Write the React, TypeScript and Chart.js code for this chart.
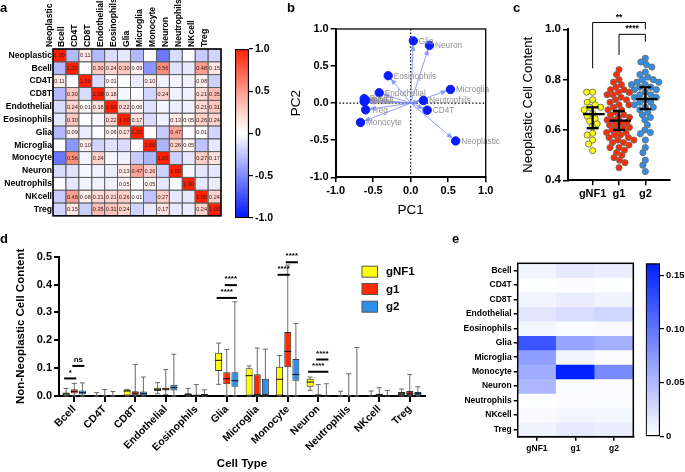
import React, { useEffect, useRef } from 'react';
import { Chart, registerables } from 'chart.js';

Chart.register(...registerables);

const FONT = "'Liberation Sans', Arial, Helvetica, sans-serif";
Chart.defaults.font.family = FONT;
Chart.defaults.color = '#000';

// ---------------- Panel a : correlation matrix ----------------
const corrLabels = ['Neoplastic', 'Bcell', 'CD4T', 'CD8T', 'Endothelial', 'Eosinophils', 'Glia', 'Microglia', 'Monocyte', 'Neuron', 'Neutrophils', 'NKcell', 'Treg'];
const corrNeoplastic = [1, -0.30, 0.11, -0.30, -0.15, -0.10, -0.30, -0.02, -0.58, -0.15, -0.02, -0.22, -0.18];
const corrBcell = [-0.30, 1, -0.02, 0.30, 0.24, 0.30, 0.09, -0.45, 0.56, -0.12, -0.10, 0.48, 0.15];
const corrCD4T = [0.11, -0.02, 1, -0.15, 0.01, -0.01, -0.08, 0.10, -0.05, -0.04, -0.05, 0.08, -0.20];
const corrCD8T = [-0.30, 0.30, -0.15, 1, 0.18, -0.04, -0.02, -0.18, 0.24, -0.06, -0.06, 0.21, 0.35];
const corrEndothelial = [-0.15, 0.24, 0.01, 0.18, 1, 0.22, 0.06, -0.12, -0.04, -0.08, -0.06, 0.21, 0.31];
const corrEosinophils = [-0.10, 0.30, -0.01, -0.04, 0.22, 1, 0.17, -0.15, -0.06, 0.13, 0.05, 0.26, 0.24];
const corrGlia = [-0.30, 0.09, -0.08, -0.02, 0.06, 0.17, 1, -0.02, -0.22, 0.47, -0.02, 0.01, -0.18];
const corrMicroglia = [-0.02, -0.45, 0.10, -0.18, -0.12, -0.15, -0.02, 1, -0.32, 0.26, 0.05, -0.25, -0.10];
const corrMonocyte = [-0.58, 0.56, -0.05, 0.24, -0.04, -0.06, -0.22, -0.32, 1, -0.20, -0.10, 0.27, 0.17];
const corrNeuron = [-0.15, -0.12, -0.04, -0.06, -0.08, 0.13, 0.47, 0.26, -0.20, 1, -0.03, -0.10, -0.10];
const corrNeutrophils = [-0.02, -0.10, -0.05, -0.06, -0.06, 0.05, -0.02, 0.05, -0.10, -0.03, 1, -0.10, -0.08];
const corrNKcell = [-0.22, 0.48, 0.08, 0.21, 0.21, 0.26, 0.01, -0.25, 0.27, -0.10, -0.10, 1, 0.24];
const corrTreg = [-0.18, 0.15, -0.20, 0.35, 0.31, 0.24, -0.18, -0.10, 0.17, -0.10, -0.08, 0.24, 1];
const corrRows = [corrNeoplastic, corrBcell, corrCD4T, corrCD8T, corrEndothelial, corrEosinophils, corrGlia, corrMicroglia, corrMonocyte, corrNeuron, corrNeutrophils, corrNKcell, corrTreg];
const corrBarTicks = [1, 0.5, 0, -0.5, -1];

// ---------------- Panel b : PCA loadings ----------------
const pcaNames = ['Glia', 'Neuron', 'Eosinophils', 'Microglia', 'Endothelial', 'Neutrophils', 'CD4T', 'Bcell', 'NKcell', 'CD8T', 'Treg', 'Monocyte', 'Neoplastic'];
const pcaX = [0.035, 0.25, -0.30, 0.53, -0.42, 0.17, 0.22, -0.62, -0.62, -0.60, -0.60, -0.67, 0.60];
const pcaY = [0.84, 0.78, 0.37, 0.185, 0.14, 0.036, -0.095, 0.06, 0.02, 0.04, -0.09, -0.26, -0.51];
const pcaTicks = [-1, -0.5, 0, 0.5, 1];

// ---------------- Panel c : neoplastic content ----------------
const groupNames = ['gNF1', 'g1', 'g2'];
const groupColors = ['#ffff00', '#ff2a00', '#2f8fe6'];
const gNF1Values = [0.75, 0.75, 0.72, 0.71, 0.70, 0.69, 0.69, 0.68, 0.665, 0.655, 0.645, 0.635, 0.624, 0.613, 0.587, 0.58, 0.56, 0.544, 0.518];
const g1Values = [0.84, 0.82, 0.80, 0.79, 0.78, 0.77, 0.76, 0.76, 0.75, 0.75, 0.74, 0.74, 0.73, 0.72, 0.72, 0.71, 0.70, 0.70, 0.69, 0.68, 0.68, 0.67, 0.66, 0.66, 0.65, 0.65, 0.64, 0.64, 0.63, 0.63, 0.62, 0.62, 0.61, 0.61, 0.60, 0.60, 0.59, 0.59, 0.58, 0.58, 0.57, 0.57, 0.56, 0.56, 0.55, 0.55, 0.54, 0.53, 0.53, 0.52, 0.51, 0.50, 0.49, 0.48, 0.47, 0.45];
const g2Values = [0.885, 0.87, 0.86, 0.85, 0.83, 0.82, 0.81, 0.80, 0.80, 0.79, 0.79, 0.78, 0.78, 0.77, 0.77, 0.76, 0.76, 0.75, 0.75, 0.74, 0.74, 0.73, 0.73, 0.72, 0.71, 0.71, 0.70, 0.69, 0.69, 0.68, 0.67, 0.66, 0.65, 0.64, 0.62, 0.60, 0.59, 0.585, 0.56, 0.53, 0.51, 0.48, 0.46, 0.435];
const cMid = [0.663, 0.637, 0.723];
const cLow = [0.607, 0.600, 0.683];
const cHigh = [0.690, 0.675, 0.770];
const cTicks = [0.4, 0.6, 0.8, 1.0];
const bracketFrom = [0, 1];
const bracketTo = [2, 2];
const bracketY = [1.027, 0.98];
const bracketLeftEnd = [0.845, 0.898];
const bracketRightEnd = [1.0, 0.951];
const bracketText = ['**', '****'];

// ---------------- Panel d : non-neoplastic content (box plots) ----------------
const cellTypesD = ['Bcell', 'CD4T', 'CD8T', 'Endothelial', 'Eosinophils', 'Glia', 'Microglia', 'Monocyte', 'Neuron', 'Neutrophils', 'NKcell', 'Treg'];
// [min, q1, median, q3, max]
const boxGNF1 = [
  [0, 0.003, 0.008, 0.013, 0.027], [0, 0, 0, 0, 0.012], [0, 0.002, 0.018, 0.022, 0.024], [0.008, 0.018, 0.024, 0.030, 0.048],
  [0, 0.001, 0.005, 0.010, 0.027], [0.042, 0.090, 0.128, 0.155, 0.190], [0, 0.002, 0.073, 0.100, 0.108], [0, 0.002, 0.060, 0.105, 0.145],
  [0.020, 0.033, 0.050, 0.062, 0.068], [0, 0, 0, 0, 0.017], [0, 0, 0, 0.001, 0.018], [0, 0.004, 0.010, 0.014, 0.025],
];
const boxG1 = [
  [0, 0.009, 0.016, 0.024, 0.045], [0, 0, 0, 0, 0.023], [0, 0.003, 0.010, 0.017, 0.113], [0.005, 0.020, 0.025, 0.030, 0.095],
  [0, 0, 0.002, 0.005, 0.041], [0, 0.042, 0.062, 0.085, 0.167], [0, 0.002, 0.005, 0.078, 0.172], [0, 0.103, 0.160, 0.230, 0.470],
  [0, 0, 0.002, 0.006, 0.041], [0, 0, 0, 0, 0.080], [0, 0.001, 0.004, 0.008, 0.030], [0, 0.004, 0.010, 0.018, 0.077],
];
const boxG2 = [
  [0, 0.005, 0.012, 0.020, 0.047], [0, 0, 0, 0, 0.016], [0, 0.002, 0.008, 0.016, 0.068], [0, 0.020, 0.030, 0.040, 0.150],
  [0, 0.001, 0.004, 0.007, 0.022], [0, 0.033, 0.055, 0.085, 0.338], [0, 0, 0.002, 0.062, 0.168], [0, 0.055, 0.077, 0.133, 0.260],
  [0, 0, 0.001, 0.002, 0.044], [0, 0, 0, 0, 0.174], [0, 0, 0.001, 0.003, 0.020], [0, 0.003, 0.008, 0.014, 0.033],
];
const boxSets = [boxGNF1, boxG1, boxG2];
const dTicks = [0, 0.1, 0.2, 0.3, 0.4, 0.5];
const sigCategory = [0, 0, 5, 5, 7, 7, 8, 8];
const sigFrom = [0, 1, 0, 1, 0, 1, 0, 1];
const sigTo = [1, 2, 2, 2, 1, 2, 2, 2];
const sigY = [0.063, 0.108, 0.352, 0.398, 0.435, 0.48, 0.087, 0.131];
const sigText = ['*', 'ns', '****', '****', '****', '****', '****', '****'];

// ---------------- Panel e : mean composition heatmap ----------------
const heatRows = ['Bcell', 'CD4T', 'CD8T', 'Endothelial', 'Eosinophils', 'Glia', 'Microglia', 'Monocyte', 'Neuron', 'Neutrophils', 'NKcell', 'Treg'];
const heatGNF1 = [0.008, 0.001, 0.008, 0.018, 0.006, 0.125, 0.070, 0.060, 0.052, 0.001, 0.004, 0.009];
const heatG1 = [0.015, 0.002, 0.012, 0.024, 0.003, 0.065, 0.008, 0.160, 0.003, 0.002, 0.007, 0.015];
const heatG2 = [0.012, 0.001, 0.009, 0.030, 0.004, 0.058, 0.002, 0.085, 0.002, 0.003, 0.006, 0.012];
const heatMax = 0.161;
const heatBarTicks = [0, 0.05, 0.1, 0.15];

// ---------------- helpers ----------------
function corrColor(v: number): string {
  if (v >= 0) {
    const t = Math.pow(Math.min(v, 1), 1.15);
    return `rgb(255,${Math.round(255 - t * 223)},${Math.round(255 - t * 255)})`;
  }
  const t = Math.min(-v, 1);
  return `rgb(${Math.round(255 - t * 255)},${Math.round(255 - t * 235)},255)`;
}
function heatColor(v: number): string {
  const t = Math.max(0, Math.min(1, v / heatMax));
  return `rgb(${Math.round(255 - t * 255)},${Math.round(255 - t * 222)},255)`;
}
function line(ctx: any, x1: number, y1: number, x2: number, y2: number) {
  ctx.beginPath();
  ctx.moveTo(x1, y1);
  ctx.lineTo(x2, y2);
  ctx.stroke();
}
function beeswarm(values: number[], pxX: number, pxY: number, diam: number): number[] {
  const order = values.map((_, i) => i).sort((a, b) => values[b] - values[a]);
  const placed: { x: number; y: number }[] = [];
  const offs = new Array(values.length).fill(0);
  for (const i of order) {
    const y = values[i] * pxY;
    let best = 0;
    for (let k = 0; k < 400; k++) {
      const cand = (k % 2 === 0 ? 1 : -1) * Math.ceil(k / 2) * 0.5;
      if (placed.every((p) => (p.x - cand) ** 2 + (p.y - y) ** 2 >= diam * diam)) {
        best = cand;
        break;
      }
    }
    placed.push({ x: best, y });
    offs[i] = best / pxX;
  }
  return offs;
}
const framePlugin = (w: number) => ({
  id: 'frame',
  afterDraw(chart: any) {
    const { ctx, chartArea: a } = chart;
    ctx.save();
    ctx.strokeStyle = '#000';
    ctx.lineWidth = w;
    ctx.strokeRect(a.left, a.top, a.right - a.left, a.bottom - a.top);
    ctx.restore();
  },
});
const baseOpts = {
  animation: false,
  responsive: false,
  maintainAspectRatio: false,
};
const noPlug = { legend: { display: false }, tooltip: { enabled: false } };
const bold = (size: number) => ({ size, weight: 'bold' as const });

// ---------------- Panel a config ----------------
const cellPlugin = {
  id: 'cells',
  afterDatasetsDraw(chart: any) {
    const { ctx } = chart;
    ctx.save();
    ctx.strokeStyle = '#5c5c5c';
    ctx.lineWidth = 0.8;
    ctx.font = `5.6px ${FONT}`;
    ctx.textAlign = 'center';
    ctx.textBaseline = 'middle';
    ctx.fillStyle = '#3a1515';
    chart.data.datasets.forEach((_ds: any, i: number) => {
      const meta = chart.getDatasetMeta(i);
      meta.data.forEach((bar: any, j: number) => {
        const p = bar.getProps(['x', 'y', 'base', 'width'], true);
        const top = Math.min(p.y, p.base);
        const h = Math.abs(p.base - p.y);
        ctx.strokeRect(p.x - p.width / 2, top, p.width, h);
        const v = corrRows[i][j];
        if (v >= 0) ctx.fillText(v.toFixed(2), p.x, top + h / 2 + 0.5);
      });
    });
    ctx.restore();
  },
};
function configA(): any {
  return {
    type: 'bar',
    data: {
      labels: corrLabels,
      datasets: corrRows.map((row, i) => ({
        label: corrLabels[i],
        data: corrLabels.map(() => 1),
        backgroundColor: row.map(corrColor),
        borderWidth: 0,
        barPercentage: 1,
        categoryPercentage: 1,
      })),
    },
    options: {
      ...baseOpts,
      layout: { padding: { left: 0, top: 0, right: 14, bottom: 5 } },
      plugins: noPlug,
      scales: {
        x: {
          position: 'top',
          stacked: true,
          grid: { display: false, drawTicks: false },
          border: { display: false },
          ticks: { autoSkip: false, minRotation: 90, maxRotation: 90, padding: 2, font: bold(8.6), color: '#000' },
          afterFit: (s: any) => { s.height = 49; },
        },
        y: {
          stacked: true,
          reverse: true,
          min: 0,
          max: 13,
          grid: { display: false, drawTicks: false },
          border: { display: false },
          afterBuildTicks: (s: any) => { s.ticks = corrLabels.map((_, i) => ({ value: i + 0.5 })); },
          ticks: { autoSkip: false, padding: 1, font: bold(8.6), color: '#000', callback: (_v: any, i: number) => corrLabels[i] },
          afterFit: (s: any) => { s.width = 53; },
        },
      },
    },
    plugins: [cellPlugin, framePlugin(1.5)],
  };
}

function colorBarConfig(min: number, max: number, ticks: number[], fmt: (v: number) => string, colorAt: (v: number) => string, padding: any, axisWidth: number, fontSize: number): any {
  return {
    type: 'bar',
    data: {
      labels: [''],
      datasets: [{
        data: [[min, max]],
        backgroundColor: (c: any) => {
          const ch = c.chart;
          const a = ch.chartArea;
          if (!a) return '#fff';
          const g = ch.ctx.createLinearGradient(0, a.bottom, 0, a.top);
          for (let k = 0; k <= 24; k++) {
            const t = k / 24;
            g.addColorStop(t, colorAt(min + t * (max - min)));
          }
          return g;
        },
        borderColor: '#000',
        borderWidth: 1.5,
        borderSkipped: false,
        barPercentage: 1,
        categoryPercentage: 1,
      }],
    },
    options: {
      ...baseOpts,
      layout: { padding },
      plugins: noPlug,
      scales: {
        x: { display: false },
        y: {
          position: 'right',
          min,
          max,
          grid: { drawOnChartArea: false, tickLength: 4, color: '#000', lineWidth: 1.2 },
          border: { display: false },
          afterBuildTicks: (s: any) => { s.ticks = ticks.map((v) => ({ value: v })); },
          ticks: { padding: 2, font: bold(fontSize), color: '#000', callback: (v: any) => fmt(Number(v)) },
          afterFit: (s: any) => { s.width = axisWidth; },
        },
      },
    },
  };
}

// ---------------- Panel b config ----------------
const pcaPlugin = {
  id: 'pca',
  beforeDatasetsDraw(chart: any) {
    const { ctx, chartArea: a, scales: { x, y } } = chart;
    const x0 = x.getPixelForValue(0);
    const y0 = y.getPixelForValue(0);
    ctx.save();
    ctx.setLineDash([1.5, 2]);
    ctx.strokeStyle = '#000';
    ctx.lineWidth = 1.2;
    line(ctx, a.left, y0, a.right, y0);
    line(ctx, x0, a.top, x0, a.bottom);
    ctx.setLineDash([]);
    ctx.strokeStyle = 'rgba(125,140,255,0.85)';
    ctx.fillStyle = 'rgba(125,140,255,0.85)';
    ctx.lineWidth = 1;
    pcaNames.forEach((_n, i) => {
      const px = x.getPixelForValue(pcaX[i]);
      const py = y.getPixelForValue(pcaY[i]);
      const dx = px - x0;
      const dy = py - y0;
      const len = Math.hypot(dx, dy);
      const ux = dx / len;
      const uy = dy / len;
      const tx = px - ux * 4;
      const ty = py - uy * 4;
      line(ctx, x0, y0, tx, ty);
      const bx = tx - ux * 6;
      const by = ty - uy * 6;
      ctx.beginPath();
      ctx.moveTo(tx, ty);
      ctx.lineTo(bx - uy * 2.6, by + ux * 2.6);
      ctx.lineTo(bx + uy * 2.6, by - ux * 2.6);
      ctx.closePath();
      ctx.fill();
    });
    ctx.restore();
  },
  afterDatasetsDraw(chart: any) {
    const { ctx, scales: { x, y } } = chart;
    ctx.save();
    ctx.fillStyle = '#8f8f8f';
    ctx.font = `8.3px ${FONT}`;
    ctx.textAlign = 'left';
    ctx.textBaseline = 'middle';
    pcaNames.forEach((n, i) => {
      ctx.fillText(n, x.getPixelForValue(pcaX[i]) + 5.5, y.getPixelForValue(pcaY[i]) + 0.5);
    });
    ctx.restore();
  },
};
function configB(): any {
  return {
    type: 'scatter',
    data: {
      datasets: [{
        data: pcaX.map((v, i) => ({ x: v, y: pcaY[i] })),
        backgroundColor: '#0a1cff',
        borderColor: '#0a1cff',
        pointRadius: 4.2,
      }],
    },
    options: {
      ...baseOpts,
      layout: { padding: { left: 0, top: 29, right: 34.3, bottom: 0 } },
      plugins: noPlug,
      scales: {
        x: {
          min: -1,
          max: 1,
          afterBuildTicks: (s: any) => { s.ticks = pcaTicks.map((v) => ({ value: v })); },
          ticks: { font: bold(11), color: '#000', padding: 2, callback: (v: any) => Number(v).toFixed(1) },
          grid: { drawOnChartArea: false, tickLength: 5, color: '#000', lineWidth: 1.5 },
          border: { color: '#000', width: 2 },
          title: { display: true, text: 'PC1', font: { size: 13.5 }, color: '#000', padding: { top: 0, bottom: 2 } },
          afterFit: (s: any) => { s.height = 42.7; },
        },
        y: {
          min: -1,
          max: 1,
          afterBuildTicks: (s: any) => { s.ticks = pcaTicks.map((v) => ({ value: v })); },
          ticks: { font: bold(11), color: '#000', padding: 2, callback: (v: any) => Number(v).toFixed(1) },
          grid: { drawOnChartArea: false, tickLength: 5, color: '#000', lineWidth: 1.5 },
          border: { color: '#000', width: 2 },
          title: { display: true, text: 'PC2', font: { size: 13.5 }, color: '#000', padding: { top: 8, bottom: 0 } },
          afterFit: (s: any) => { s.width = 55.7; },
        },
      },
    },
    plugins: [pcaPlugin, framePlugin(1.3)],
  };
}

// ---------------- Panel c config ----------------
const cPlugin = {
  id: 'cErr',
  afterDatasetsDraw(chart: any) {
    const { ctx, scales: { x, y } } = chart;
    ctx.save();
    ctx.strokeStyle = '#000';
    ctx.lineWidth = 2.3;
    groupNames.forEach((_g, i) => {
      const cx = x.getPixelForValue(i);
      const yl = y.getPixelForValue(cLow[i]);
      const yh = y.getPixelForValue(cHigh[i]);
      const ym = y.getPixelForValue(cMid[i]);
      line(ctx, cx, yl, cx, yh);
      line(ctx, cx - 6, yl, cx + 6, yl);
      line(ctx, cx - 6, yh, cx + 6, yh);
      line(ctx, cx - 9.5, ym, cx + 9.5, ym);
      ctx.save();
      ctx.setLineDash([2.5, 2]);
      line(ctx, cx + 9.5, ym, cx + 14, ym);
      ctx.restore();
    });
    ctx.lineWidth = 1;
    ctx.fillStyle = '#000';
    ctx.font = `bold 8.5px ${FONT}`;
    ctx.textAlign = 'center';
    ctx.textBaseline = 'bottom';
    bracketText.forEach((t, i) => {
      const x1 = x.getPixelForValue(bracketFrom[i]);
      const x2 = x.getPixelForValue(bracketTo[i]);
      const yb = y.getPixelForValue(bracketY[i]);
      ctx.beginPath();
      ctx.moveTo(x1, y.getPixelForValue(bracketLeftEnd[i]));
      ctx.lineTo(x1, yb);
      ctx.lineTo(x2, yb);
      ctx.lineTo(x2, y.getPixelForValue(bracketRightEnd[i]));
      ctx.stroke();
      ctx.fillText(t, (x1 + x2) / 2, yb - 1);
    });
    ctx.restore();
  },
};
function configC(): any {
  const all = [gNF1Values, g1Values, g2Values];
  const offs = all.map((vals) => beeswarm(vals, 26.5, 251.7, 5.6));
  return {
    type: 'scatter',
    data: {
      datasets: all.map((vals, gi) => ({
        label: groupNames[gi],
        data: vals.map((v, k) => ({ x: gi + offs[gi][k], y: v })),
        backgroundColor: groupColors[gi],
        borderColor: '#6e6e6e',
        borderWidth: 0.9,
        pointRadius: 3.1,
      })),
    },
    options: {
      ...baseOpts,
      layout: { padding: { left: 0, top: 29.3, right: 15, bottom: 0 } },
      plugins: noPlug,
      scales: {
        x: {
          min: -0.935,
          max: 2.935,
          afterBuildTicks: (s: any) => { s.ticks = groupNames.map((_, i) => ({ value: i })); },
          ticks: { font: bold(11), color: '#000', padding: 2, callback: (_v: any, i: number) => groupNames[i] },
          grid: { drawOnChartArea: false, tickLength: 5, color: '#000', lineWidth: 1.5 },
          border: { color: '#000', width: 2 },
          afterFit: (s: any) => { s.height = 44.7; },
        },
        y: {
          min: 0.4,
          max: 1.0,
          afterBuildTicks: (s: any) => { s.ticks = cTicks.map((v) => ({ value: v })); },
          ticks: { font: bold(11.5), color: '#000', padding: 2, callback: (v: any) => Number(v).toFixed(1) },
          grid: { drawOnChartArea: false, tickLength: 5, color: '#000', lineWidth: 1.5 },
          border: { color: '#000', width: 2 },
          title: { display: true, text: 'Neoplastic Cell Content', font: { size: 13 }, color: '#000', padding: { top: 1, bottom: 0 } },
          afterFit: (s: any) => { s.width = 48; },
        },
      },
    },
    plugins: [cPlugin],
  };
}

// ---------------- Panel d config ----------------
const boxPlugin = {
  id: 'box',
  beforeDatasetsDraw(chart: any) {
    const { ctx, scales: { y } } = chart;
    ctx.save();
    ctx.strokeStyle = '#6a6a6a';
    ctx.lineWidth = 1;
    boxSets.forEach((set, di) => {
      const meta = chart.getDatasetMeta(di);
      set.forEach((b, j) => {
        const cx = meta.data[j].x;
        const yMin = y.getPixelForValue(b[0]);
        const yMax = y.getPixelForValue(b[4]);
        line(ctx, cx, yMin, cx, yMax);
        line(ctx, cx - 2.5, yMax, cx + 2.5, yMax);
        line(ctx, cx - 2.5, yMin, cx + 2.5, yMin);
      });
    });
    ctx.restore();
  },
  afterDatasetsDraw(chart: any) {
    const { ctx, scales: { y } } = chart;
    ctx.save();
    ctx.strokeStyle = '#111';
    ctx.lineWidth = 1;
    boxSets.forEach((set, di) => {
      const meta = chart.getDatasetMeta(di);
      set.forEach((b, j) => {
        if (b[3] <= b[1]) return;
        const bar = meta.data[j];
        const ym = y.getPixelForValue(b[2]);
        line(ctx, bar.x - bar.width / 2, ym, bar.x + bar.width / 2, ym);
      });
    });
    ctx.lineWidth = 2;
    ctx.strokeStyle = '#000';
    ctx.fillStyle = '#000';
    ctx.font = `bold 8px ${FONT}`;
    ctx.textAlign = 'center';
    ctx.textBaseline = 'bottom';
    sigText.forEach((t, i) => {
      const a = chart.getDatasetMeta(sigFrom[i]).data[sigCategory[i]];
      const b = chart.getDatasetMeta(sigTo[i]).data[sigCategory[i]];
      const yy = y.getPixelForValue(sigY[i]);
      const x1 = a.x - 2;
      const x2 = b.x + 2;
      line(ctx, x1, yy, x2, yy);
      ctx.fillText(t, (x1 + x2) / 2, yy - 2);
    });
    ctx.restore();
  },
  afterDraw(chart: any) {
    const { ctx } = chart;
    ctx.save();
    const ys = [36.7, 54, 71.7];
    groupNames.forEach((g, i) => {
      ctx.fillStyle = groupColors[i];
      ctx.strokeStyle = '#555';
      ctx.lineWidth = 1;
      ctx.fillRect(362, ys[i] - 5.5, 15.5, 11);
      ctx.strokeRect(362, ys[i] - 5.5, 15.5, 11);
      ctx.fillStyle = '#000';
      ctx.font = `bold 11.5px ${FONT}`;
      ctx.textAlign = 'left';
      ctx.textBaseline = 'middle';
      ctx.fillText(g, 386, ys[i] + 0.5);
    });
    ctx.restore();
  },
};
function configD(): any {
  return {
    type: 'bar',
    data: {
      labels: cellTypesD,
      datasets: boxSets.map((set, gi) => ({
        label: groupNames[gi],
        data: set.map((b) => [b[1], b[3]]),
        backgroundColor: groupColors[gi],
        borderColor: '#333',
        borderWidth: 1,
        borderSkipped: false,
        categoryPercentage: 0.8,
        barPercentage: 0.86,
      })),
    },
    options: {
      ...baseOpts,
      layout: { padding: { left: 0, top: 21.7, right: 15, bottom: 0 } },
      plugins: noPlug,
      scales: {
        x: {
          grid: { drawOnChartArea: false, offset: false, tickLength: 6, color: '#000', lineWidth: 2 },
          border: { color: '#000', width: 2 },
          ticks: { autoSkip: false, minRotation: 45, maxRotation: 45, padding: 1, font: bold(10.5), color: '#000' },
          title: { display: true, text: 'Cell Type', font: bold(11.5), color: '#000', padding: { top: 0, bottom: 1 } },
          afterFit: (s: any) => { s.height = 76; },
        },
        y: {
          min: 0,
          max: 0.5,
          afterBuildTicks: (s: any) => { s.ticks = dTicks.map((v) => ({ value: v })); },
          ticks: { font: bold(11), color: '#000', padding: 2, callback: (v: any) => Number(v).toFixed(1) },
          grid: { drawOnChartArea: false, tickLength: 5, color: '#000', lineWidth: 2 },
          border: { color: '#000', width: 2 },
          title: { display: true, text: 'Non-Neoplastic Cell Content', font: bold(11.5), color: '#000', padding: { top: 14, bottom: 0 } },
          afterFit: (s: any) => { s.width = 59; },
        },
      },
    },
    plugins: [boxPlugin],
  };
}

// ---------------- Panel e config ----------------
function configE(): any {
  const cols = [heatGNF1, heatG1, heatG2];
  return {
    type: 'bar',
    data: {
      labels: groupNames,
      datasets: heatRows.map((name, r) => ({
        label: name,
        data: groupNames.map(() => 1),
        backgroundColor: cols.map((c) => heatColor(c[r])),
        borderWidth: 0,
        barPercentage: 1,
        categoryPercentage: 1,
      })),
    },
    options: {
      ...baseOpts,
      layout: { padding: { left: 0, top: 23.3, right: 6.7, bottom: 0 } },
      plugins: noPlug,
      scales: {
        x: {
          stacked: true,
          grid: { drawOnChartArea: false, offset: false, tickLength: 4, color: '#000', lineWidth: 1.5 },
          border: { color: '#000', width: 1.5 },
          ticks: { font: bold(8.5), color: '#000', padding: 3 },
          afterFit: (s: any) => { s.height = 35.3; },
        },
        y: {
          stacked: true,
          reverse: true,
          min: 0,
          max: heatRows.length,
          grid: { drawOnChartArea: false, tickLength: 4, color: '#000', lineWidth: 1.5 },
          border: { color: '#000', width: 1.5 },
          afterBuildTicks: (s: any) => { s.ticks = heatRows.map((_, i) => ({ value: i + 0.5 })); },
          ticks: { autoSkip: false, padding: 2, font: bold(8.5), color: '#000', callback: (_v: any, i: number) => heatRows[i] },
          afterFit: (s: any) => { s.width = 77.7; },
        },
      },
    },
    plugins: [framePlugin(1.5)],
  };
}

// ---------------- components ----------------
function ChartCanvas({ left, top, width, height, make }: { left: number; top: number; width: number; height: number; make: () => any }) {
  const ref = useRef<HTMLCanvasElement | null>(null);
  useEffect(() => {
    if (!ref.current) return;
    const chart = new Chart(ref.current, make());
    return () => chart.destroy();
  }, []);
  return <canvas ref={ref} width={width} height={height} style={{ position: 'absolute', left, top, width, height }} />;
}

function Letter({ ch, left, top }: { ch: string; left: number; top: number }) {
  return (
    <div style={{ position: 'absolute', left, top, fontFamily: FONT, fontWeight: 'bold', fontSize: 13, lineHeight: '13px', color: '#000' }}>{ch}</div>
  );
}

export default function App() {
  return (
    <div style={{ position: 'absolute', left: 0, top: 0, width: 685, height: 472, background: '#fff', overflow: 'hidden' }}>
      <ChartCanvas left={0} top={0} width={235} height={222} make={configA} />
      <ChartCanvas left={228} top={40} width={60} height={188} make={() => colorBarConfig(-1, 1, corrBarTicks, (v) => (v === 0 ? '0' : v.toFixed(1)), corrColor, { left: 7, top: 9, right: 0, bottom: 10 }, 39, 10.5)} />
      <ChartCanvas left={280} top={0} width={240} height={220} make={configB} />
      <ChartCanvas left={520} top={0} width={165} height={225} make={configC} />
      <ChartCanvas left={0} top={235} width={440} height={237} make={configD} />
      <ChartCanvas left={440} top={240} width={200} height={232} make={configE} />
      <ChartCanvas left={638} top={250} width={47} height={200} make={() => colorBarConfig(0, heatMax, heatBarTicks, (v) => (v === 0 ? '0' : v.toFixed(2)), heatColor, { left: 7.7, top: 13.3, right: 0, bottom: 13.3 }, 25, 9.5)} />
      <Letter ch="a" left={0} top={1} />
      <Letter ch="b" left={287} top={1} />
      <Letter ch="c" left={513} top={1} />
      <Letter ch="d" left={0} top={232} />
      <Letter ch="e" left={452} top={232} />
    </div>
  );
}
